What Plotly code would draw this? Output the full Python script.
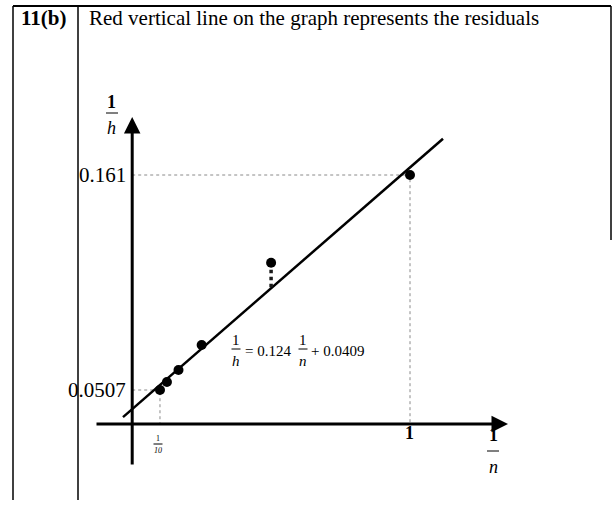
import numpy as np
import plotly.graph_objects as go

# Observations: n and measured 1/h
n_values = [10, 8, 6, 4, 2, 1]
inv_h = [0.0507, 0.0548, 0.0610, 0.0738, 0.1160, 0.161]

# Least-squares line  1/h = 0.124 (1/n) + 0.0409
slope = 0.124
intercept = 0.0409

# Marked values on the axes
y_marks = [0.0507, 0.161]
y_mark_labels = ["0.0507", "0.161"]

W, H = 612, 506
SERIF = "Liberation Serif, Times New Roman, serif"

inv_n = [1.0 / n for n in n_values]
fit = [slope * x + intercept for x in inv_n]

# axis scale: px per unit
x_origin_px, x_scale = 132.2, 277.8
y_ref_px, y_ref_val, y_scale = 175.0, 0.161, 1949.2


def dx(px):
    return (px - x_origin_px) / x_scale


def dy(py):
    return y_ref_val - (py - y_ref_px) / y_scale


def PX(px):
    return px / W


def PY(py):
    return 1 - py / H


def label(x, y, text, size, xanchor="center", xref="paper", yref="paper"):
    return dict(x=x, y=y, xref=xref, yref=yref, text=text, showarrow=False,
                xanchor=xanchor, yanchor="middle",
                font=dict(family=SERIF, size=size, color="black"))


fig = go.Figure()

# dotted guide lines to the marked points
fig.add_trace(go.Scatter(
    x=[0, inv_n[-1], inv_n[-1], None, 0, inv_n[0], inv_n[0]],
    y=[y_marks[1], y_marks[1], dy(424), None, y_marks[0], y_marks[0], dy(424)],
    mode="lines", line=dict(color="#8a8a8a", width=1, dash="dot"),
    hoverinfo="skip", showlegend=False))

# fitted line
x_line = np.array([dx(123), dx(443)])
fig.add_trace(go.Scatter(
    x=x_line, y=slope * x_line + intercept, mode="lines",
    line=dict(color="black", width=2.5), showlegend=False))

# residuals: vertical segments from each point to the line
rx, ry = [], []
for x, y, f in zip(inv_n, inv_h, fit):
    rx += [x, x, None]
    ry += [y, f, None]
fig.add_trace(go.Scatter(
    x=rx, y=ry, mode="lines",
    line=dict(color="#1a1a1a", width=3.5, dash="dot"),
    showlegend=False))

# data points
fig.add_trace(go.Scatter(
    x=inv_n, y=inv_h, mode="markers",
    marker=dict(color="black", size=10), showlegend=False))

annotations = []

# axes drawn as arrows
axis_y = dy(424)
annotations.append(dict(
    x=dx(508), y=axis_y, ax=dx(95), ay=axis_y, xref="x", yref="y",
    axref="x", ayref="y", text="", showarrow=True, arrowhead=2,
    arrowsize=1.1, arrowwidth=3, arrowcolor="black"))
annotations.append(dict(
    x=0, y=dy(117), ax=0, ay=dy(466), xref="x", yref="y",
    axref="x", ayref="y", text="", showarrow=True, arrowhead=2,
    arrowsize=1.1, arrowwidth=3, arrowcolor="black"))

shapes = []


def fraction(cx, top_py, bar_py, bot_py, num, den, size, bar_w):
    annotations.append(label(PX(cx), PY(top_py), num, size))
    annotations.append(label(PX(cx), PY(bot_py), "<i>%s</i>" % den, size))
    shapes.append(dict(type="line", xref="paper", yref="paper",
                       x0=PX(cx - bar_w / 2), x1=PX(cx + bar_w / 2),
                       y0=PY(bar_py), y1=PY(bar_py),
                       line=dict(color="black", width=1)))


# axis titles
fraction(112, 102, 113, 128, "<b>1</b>", "h", 18, 12)
fraction(493, 435, 451, 467, "<b>1</b>", "n", 18, 12)

# tick labels on the x-axis
fraction(158, 438, 444, 450, "1", "10", 8, 9)
annotations.append(label(PX(409), PY(433), "<b>1</b>", 18))

# tick labels on the y-axis
for val, lab in zip(y_marks, y_mark_labels):
    annotations.append(label(PX(128), val, lab, 21, xanchor="right", yref="y"))

# equation of the line
fraction(236, 340, 349, 361, "1", "h", 15, 9)
annotations.append(label(PX(243), PY(351), "= 0.124", 15, xanchor="left"))
fraction(303, 340, 349, 361, "1", "n", 15, 9)
annotations.append(label(PX(309), PY(351), "+ 0.0409", 15, xanchor="left"))

# header row of the answer table
annotations.append(label(PX(19), PY(18), "<b>11(b)</b>", 21, xanchor="left"))
annotations.append(label(PX(87), PY(18),
                         "Red vertical line on the graph represents the residuals",
                         21, xanchor="left"))

# table borders
for x0, y0, x1, y1, w in [(13, 6, 611, 6, 2), (13, 6, 13, 500, 1.5),
                          (78, 6, 78, 500, 1.5), (611, 6, 611, 240, 1.5)]:
    shapes.append(dict(type="line", xref="paper", yref="paper",
                       x0=PX(x0), x1=PX(x1), y0=PY(y0), y1=PY(y1),
                       line=dict(color="black", width=w)))

fig.update_layout(
    width=W, height=H,
    margin=dict(l=0, r=0, t=0, b=0),
    paper_bgcolor="white", plot_bgcolor="white",
    xaxis=dict(range=[dx(0), dx(W)], visible=False, fixedrange=True),
    yaxis=dict(range=[dy(H), dy(0)], visible=False, fixedrange=True),
    annotations=annotations, shapes=shapes,
    showlegend=False,
)

fig.write_html("out.html")
